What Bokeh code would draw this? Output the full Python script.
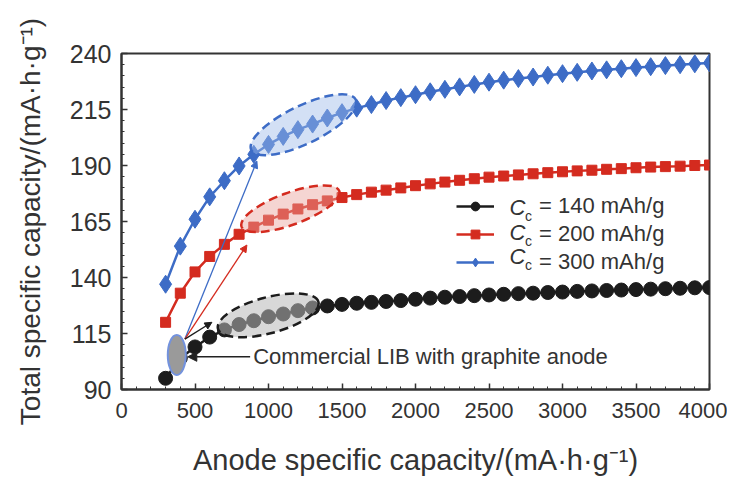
from bokeh.plotting import figure
from bokeh.models import (Range1d, FixedTicker, Legend, LegendItem, Label, Arrow,
                          NormalHead, ColumnDataSource)
from bokeh.embed import file_html
from bokeh.resources import INLINE

# ---------------- data ----------------
anode_capacity = [300, 400, 500, 600, 700, 800, 900, 1000, 1100, 1200, 1300, 1400,
                  1500, 1600, 1700, 1800, 1900, 2000, 2100, 2200, 2300, 2400, 2500,
                  2600, 2700, 2800, 2900, 3000, 3100, 3200, 3300, 3400, 3500, 3600,
                  3700, 3800, 3900, 4000]
total_cc140 = [95, 104, 109, 113.4, 116.6, 119, 120.7, 122.5, 123.7, 125.2, 126.4, 127.3,
               128, 128.5, 128.9, 129.3, 129.7, 130.3, 130.8, 131.2, 131.5, 131.9, 132.2,
               132.5, 132.8, 133.0, 133.3, 133.5, 133.8, 134.0, 134.2, 134.4, 134.6, 134.8,
               135.0, 135.2, 135.4, 135.5]
total_cc200 = [120, 133, 142.5, 149.4, 154.8, 159.3, 162.5, 165.6, 168.3, 170.6, 172.5, 174.2,
               175.7, 177, 178.1, 179, 180, 181, 181.8, 182.6, 183.4, 184.1, 184.8,
               185.3, 185.8, 186.3, 186.8, 187.2, 187.6, 187.9, 188.3, 188.6, 189.0, 189.3,
               189.5, 189.7, 190.0, 190.2]
total_cc300 = [137, 154, 166, 176, 183.2, 189.8, 195, 199.4, 203, 206, 208.5, 211.2,
               213.6, 215.6, 217.2, 219, 220.3, 221.6, 222.9, 224, 225.1, 226.2, 227.2,
               228.1, 228.8, 229.5, 230.3, 231, 231.6, 232.2, 232.7, 233.2, 233.7, 234.1,
               234.6, 235, 235.4, 235.8]

series_labels = ["= 140 mAh/g", "= 200 mAh/g", "= 300 mAh/g"]
x_ticks = [0, 500, 1000, 1500, 2000, 2500, 3000, 3500, 4000]
y_ticks = [90, 115, 140, 165, 190, 215, 240]
y_minor_ticks = list(range(90, 241, 5))
x_minor_ticks = list(range(0, 4001, 100))

BLACK = "#1c1c1c"
RED = "#d42b1f"
BLUE = "#3d6cc6"
TEXT = "#333333"
FONT = "Liberation Sans"
NAN = float("nan")

# ---------------- figure ----------------
p = figure(width=727, height=478, output_backend="svg", toolbar_location=None,
           x_range=Range1d(0, 4000), y_range=Range1d(90, 240),
           min_border_left=121, min_border_top=53, min_border_right=18,
           min_border_bottom=85)
p.grid.visible = False
p.background_fill_color = "white"
p.border_fill_color = "white"
p.outline_line_color = "#333333"
p.outline_line_width = 2

for ax in (p.xaxis[0], p.yaxis[0]):
    ax.axis_line_width = 2
    ax.axis_line_color = "#333333"
    ax.major_tick_in = 6
    ax.major_tick_out = 0
    ax.minor_tick_in = 3
    ax.minor_tick_out = 0
    ax.major_tick_line_color = "#333333"
    ax.minor_tick_line_color = "#333333"
    ax.major_tick_line_width = 1.5
    ax.major_label_text_font = FONT
    ax.major_label_text_color = TEXT
    ax.axis_label_text_font = FONT
    ax.axis_label_text_color = TEXT
    ax.axis_label_text_font_style = "normal"

p.xaxis.ticker = FixedTicker(ticks=x_ticks, minor_ticks=x_minor_ticks)
p.yaxis.ticker = FixedTicker(ticks=y_ticks, minor_ticks=y_minor_ticks)
p.xaxis.major_label_text_font_size = "22px"
p.yaxis.major_label_text_font_size = "25px"
p.xaxis.major_label_standoff = 13
p.yaxis.major_label_standoff = 10
p.xaxis.axis_label = "Anode specific capacity/(mA\u00b7h\u00b7g\u207b\u00b9)"
p.yaxis.axis_label = "Total specific capacity/(mA\u00b7h\u00b7g\u207b\u00b9)"
p.xaxis.axis_label_text_font_size = "29px"
p.yaxis.axis_label_text_font_size = "28px"
p.xaxis.axis_label_standoff = 23
p.yaxis.axis_label_standoff = 21

src = ColumnDataSource(dict(x=anode_capacity, c140=total_cc140,
                            c200=total_cc200, c300=total_cc300))

# series
p.line("x", "c300", source=src, line_color=BLUE, line_width=2.5)
p.scatter("x", "c300", source=src, marker="diamond", size=18, fill_color=BLUE,
          line_color=BLUE)
p.line("x", "c200", source=src, line_color=RED, line_width=2.5)
p.scatter("x", "c200", source=src, marker="square", size=10, fill_color=RED,
          line_color=RED)
p.line("x", "c140", source=src, line_color=BLACK, line_width=2.5)
p.scatter("x", "c140", source=src, marker="circle", size=14, fill_color=BLACK,
          line_color=BLACK)

# highlight ellipses (screen-sized, centred in data space)
p.ellipse(x=[1238], y=[208.2], width=116, height=38, angle=0.45,
          width_units="screen", height_units="screen",
          fill_color="#9dbbe8", fill_alpha=0.45, line_color=BLUE,
          line_width=2.5, line_dash="9 5")
p.ellipse(x=[1149], y=[170.7], width=104, height=32, angle=0.35,
          width_units="screen", height_units="screen",
          fill_color="#e9a29c", fill_alpha=0.45, line_color=RED,
          line_width=2.5, line_dash="9 5")
p.ellipse(x=[998], y=[123.1], width=104, height=36, angle=0.26,
          width_units="screen", height_units="screen",
          fill_color="#b8b8b8", fill_alpha=0.55, line_color=BLACK,
          line_width=2.5, line_dash="9 5")

# pointer lines from graphite marker
p.add_layout(Arrow(x_start=431, y_start=112.5, x_end=921, y_end=192,
                   line_color=BLUE, line_width=1.3,
                   end=NormalHead(size=7, fill_color=BLUE, line_color=BLUE)))
p.add_layout(Arrow(x_start=431, y_start=112.5, x_end=853, y_end=154.5,
                   line_color=RED, line_width=1.3,
                   end=NormalHead(size=7, fill_color=RED, line_color=RED)))
p.add_layout(Arrow(x_start=431, y_start=112.5, x_end=615, y_end=120,
                   line_color=BLACK, line_width=1.3,
                   end=NormalHead(size=7, fill_color=BLACK, line_color=BLACK)))
p.add_layout(Arrow(x_start=875, y_start=104.6, x_end=451, y_end=104.6,
                   line_color="#222222", line_width=1.6,
                   end=NormalHead(size=9, fill_color="#222222", line_color="#222222")))

# graphite marker
p.ellipse(x=[376], y=[105.4], width=18, height=40,
          width_units="screen", height_units="screen",
          fill_color="#9a9a9a", line_color="#7392dd", line_width=2)

p.add_layout(Label(x=896, y=104.6, text="Commercial LIB with graphite anode",
                   text_font=FONT, text_font_size="22px", text_color=TEXT,
                   text_baseline="middle"))

# legend (sample glyphs from renderers holding no visible point)
l1 = p.line(x=[NAN], y=[NAN], line_color=BLACK, line_width=2.5)
m1 = p.scatter(x=[NAN], y=[NAN], marker="circle", size=9, fill_color=BLACK, line_color=BLACK)
l2 = p.line(x=[NAN], y=[NAN], line_color=RED, line_width=2.5)
m2 = p.scatter(x=[NAN], y=[NAN], marker="square", size=8, fill_color=RED, line_color=RED)
l3 = p.line(x=[NAN], y=[NAN], line_color=BLUE, line_width=2.5)
m3 = p.scatter(x=[NAN], y=[NAN], marker="diamond", size=11, fill_color=BLUE, line_color=BLUE)

legend = Legend(items=[LegendItem(label=series_labels[0], renderers=[l1, m1]),
                       LegendItem(label=series_labels[1], renderers=[l2, m2]),
                       LegendItem(label=series_labels[2], renderers=[l3, m3])],
                location=(335, 114), glyph_width=38, glyph_height=22,
                label_height=22, spacing=2, padding=0, margin=0,
                label_standoff=45, border_line_alpha=0, background_fill_alpha=0,
                label_text_font=FONT, label_text_font_size="22px",
                label_text_color=TEXT)
p.add_layout(legend)

for yc in (171.2, 160.2, 149.2):
    p.add_layout(Label(x=2639, y=yc, text="C", text_font=FONT,
                       text_font_size="22px", text_font_style="italic",
                       text_color=TEXT, text_baseline="middle"))
    p.add_layout(Label(x=2745, y=yc - 3.8, text="c", text_font=FONT,
                       text_font_size="14px", text_color=TEXT,
                       text_baseline="middle"))

open("out.html", "w").write(file_html(p, INLINE))
